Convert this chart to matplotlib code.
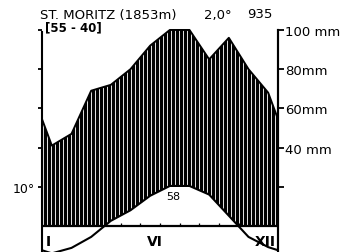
import numpy as np
import matplotlib
matplotlib.use("Agg")
import matplotlib.pyplot as plt

# ---- data ----
months = ["I", "II", "III", "IV", "V", "VI", "VII", "VIII", "IX", "X", "XI", "XII"]
temperature = [-7.0, -5.6, -2.8, 1.3, 4.0, 7.7, 10.2, 10.2, 8.0, 2.6, -2.8, -5.4]   # °C
precipitation = [41, 47, 69, 72, 80, 92, 100, 100, 85, 96, 80, 68]                  # mm
station = "ST. MORITZ (1853m)"
period = "[55 - 40]"
mean_temp = "2,0°"
annual_precip = "935"
max_label = "58"
right_ticks = [20, 40, 60, 80, 100]
right_labels = ["", "40 mm", "60mm", "80mm", "100 mm"]
left_ticks = [20, 40, 60, 80, 100]
left_labels = ["10°", "", "", "", ""]
shown_months = ["I", "VI", "XII"]

plt.rcParams["font.family"] = ["DejaVu Sans"]

n = len(months)
xm = np.arange(n) + 0.5
t_mm = 2 * np.asarray(temperature, float)            # 10 °C = 20 mm
p = np.asarray(precipitation, float)
t_edge = (t_mm[0] + t_mm[-1]) / 2
p_edge = (p[0] + p[-1]) / 2
x = np.concatenate([[0], xm, [n]])
t_line = np.concatenate([[t_edge], t_mm, [t_edge]])
p_line = np.concatenate([[p_edge], p, [p_edge]])

fig = plt.figure(figsize=(3.45, 2.53), dpi=100)
ax = fig.add_axes([42 / 345, 0, 236 / 345, 1])
ax.set_xlim(0, n)
ax.set_ylim(-13.3, 115.8)

# humid period: vertical stripe texture clipped to the precipitation area
area = ax.fill_between(x, 0, p_line, facecolor="black", edgecolor="none", zorder=1)
cols = 236
stripes = (np.arange(cols) % 4 == 1).astype(float)[None, :]
img = ax.imshow(stripes, cmap="gray", vmin=0, vmax=1.15, extent=(0, n, 0, 110),
                aspect="auto", interpolation="nearest", zorder=1.5)
img.set_clip_path(area.get_paths()[0], transform=ax.transData)
ax.plot(x, p_line, color="black", lw=1.4, zorder=2)
# white area under the temperature curve
ax.fill_between(x, 0, t_line, where=t_line > 0, interpolate=True,
                facecolor="white", edgecolor="none", zorder=3)
# baseline and month boundary ticks
ax.axhline(0, color="black", lw=1.6, zorder=4)
ax.vlines(np.arange(1, n), 0, 1.6, color="black", lw=0.9, zorder=4)
# temperature curve
ax.plot(x, t_line, color="black", lw=1.5, zorder=5, clip_on=True)

# spines / ticks
for s in ["top", "bottom"]:
    ax.spines[s].set_visible(False)
ax.spines["left"].set_bounds(-13.3, 99)
ax.spines["right"].set_bounds(-13.3, 100)
for s in ["left", "right"]:
    ax.spines[s].set_linewidth(1.5)
ax.set_xticks([])
ax.set_yticks(left_ticks)
ax.set_yticklabels(left_labels, fontsize=9)
ax.tick_params(axis="y", direction="out", length=3, width=1.3, pad=2)

ax2 = ax.twinx()
ax2.set_ylim(ax.get_ylim())
for s in ["top", "bottom", "left"]:
    ax2.spines[s].set_visible(False)
ax2.spines["right"].set_bounds(-13.3, 100)
ax2.spines["right"].set_linewidth(1.5)
ax2.set_yticks(right_ticks)
ax2.set_yticklabels(right_labels, fontsize=9.5)
ax2.tick_params(axis="y", direction="out", length=4, width=1.3, pad=1)

# month labels
ax.text(0.2, -7.7, shown_months[0], ha="left", va="center", fontsize=10, fontweight="bold")
ax.text(5.75, -7.7, shown_months[1], ha="center", va="center", fontsize=10, fontweight="bold")
ax.text(11.9, -7.7, shown_months[2], ha="right", va="center", fontsize=10, fontweight="bold")
ax.text(6.66, 15.3, max_label, ha="center", va="center", fontsize=8)

# header texts
fig.text(40 / 345, 1 - 15 / 253, station, ha="left", va="center", fontsize=9.5)
fig.text(45 / 345, 1 - 28 / 253, period, ha="left", va="center", fontsize=8.5, fontweight="bold")
fig.text(218 / 345, 1 - 16 / 253, mean_temp, ha="center", va="center", fontsize=9.5)
fig.text(260 / 345, 1 - 15 / 253, annual_precip, ha="center", va="center", fontsize=9.5)

fig.savefig("out.png", dpi=100)
